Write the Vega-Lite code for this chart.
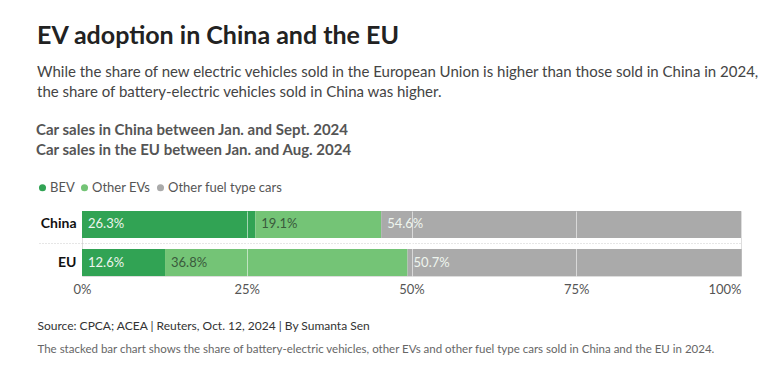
{
  "$schema": "https://vega.github.io/schema/vega-lite/v6.json",
  "autosize": {"type": "none"},
  "padding": {"left": 82, "top": 211, "right": 31, "bottom": 95},
  "width": 659,
  "height": 65,
  "background": "white",
  "title": {
    "text": "EV adoption in China and the EU",
    "subtitle": ["While the share of new electric vehicles sold in the European Union is higher than those sold in China in 2024,", "the share of battery-electric vehicles sold in China was higher."],
    "anchor": "start",
    "frame": "group",
    "dx": -45,
    "offset": 23,
    "font": "Lato",
    "fontSize": 25,
    "fontWeight": "bold",
    "color": "#222222",
    "subtitleFont": "Lato",
    "subtitleFontSize": 15,
    "subtitleColor": "#444444",
    "subtitleLineHeight": 20,
    "subtitlePadding": 16
  },
  "data": {
    "values": [
      {"country": "China", "type": "BEV", "order": 1, "value": 26.3},
      {"country": "China", "type": "Other EVs", "order": 2, "value": 19.1},
      {"country": "China", "type": "Other fuel type cars", "order": 3, "value": 54.6},
      {"country": "EU", "type": "BEV", "order": 1, "value": 12.6},
      {"country": "EU", "type": "Other EVs", "order": 2, "value": 36.8},
      {"country": "EU", "type": "Other fuel type cars", "order": 3, "value": 50.7}
    ]
  },
  "transform": [
    {"stack": "value", "groupby": ["country"], "sort": [{"field": "order", "order": "ascending"}], "as": ["v0", "v1"]},
    {"calculate": "format(datum.value, '.1f') + '%'", "as": "label"}
  ],
  "encoding": {
    "y": {
      "field": "country",
      "type": "nominal",
      "sort": ["China", "EU"],
      "scale": {"paddingInner": 0.29, "paddingOuter": 0},
      "axis": {
        "title": null,
        "domain": false,
        "labelFont": "Lato",
        "labelFontSize": 14,
        "labelFontWeight": "bold",
        "labelColor": "#111111",
        "ticks": true,
        "tickSize": 45,
        "tickColor": "#cccccc",
        "tickDash": [1, 2],
        "tickWidth": 1,
        "tickOpacity": {"condition": {"test": "datum.value === 'China'", "value": 1}, "value": 0},
        "bandPosition": 1.204,
        "labelPadding": -39,
        "grid": true,
        "gridColor": "#cccccc",
        "gridDash": [1, 2],
        "gridOpacity": {"condition": {"test": "datum.value === 'China'", "value": 1}, "value": 0}
      }
    }
  },
  "layer": [
    {
      "mark": {"type": "bar"},
      "encoding": {
        "x": {
          "field": "v0",
          "type": "quantitative",
          "scale": {"domain": [0, 100], "nice": false},
          "axis": {
            "orient": "bottom",
            "values": [0, 25, 50, 75, 100],
            "labelExpr": "datum.value + '%'",
            "labelFont": "Lato",
            "labelFontSize": 13,
            "labelColor": "#555555",
            "labelPadding": 7,
            "labelAlign": {"condition": {"test": "datum.value === 100", "value": "right"}, "value": "center"},
            "domain": false,
            "ticks": false,
            "grid": true,
            "gridColor": "#ffffff",
            "gridOpacity": {"condition": {"test": "datum.value === 0 || datum.value === 100", "value": 0}, "value": 0.55},
            "zindex": 1,
            "title": "Source: CPCA; ACEA | Reuters, Oct. 12, 2024 | By Sumanta Sen",
            "titleFont": "Liberation Sans Narrow, Lato",
            "titleFontSize": 12,
            "titleFontWeight": "normal",
            "titleColor": "#333333",
            "titleAnchor": "start",
            "titleAlign": "left",
            "titleBaseline": "alphabetic",
            "titleX": -45,
            "titleY": 53
          }
        },
        "x2": {"field": "v1"},
        "color": {
          "field": "type",
          "type": "nominal",
          "sort": ["BEV", "Other EVs", "Other fuel type cars"],
          "scale": {"domain": ["BEV", "Other EVs", "Other fuel type cars"], "range": ["#31a354", "#74c476", "#aaaaaa"]},
          "legend": {
            "orient": "none",
            "legendX": -46,
            "legendY": -88,
            "direction": "horizontal",
            "title": ["Car sales in China between Jan. and Sept. 2024", "Car sales in the EU between Jan. and Aug. 2024"],
            "titleFont": "Lato",
            "titleFontSize": 15,
            "titleFontWeight": "bold",
            "titleColor": "#555555",
            "titleLineHeight": 20,
            "titlePadding": 23,
            "titleLimit": 600,
            "symbolType": "circle",
            "symbolSize": 50,
            "symbolStrokeWidth": 0,
            "labelFont": "Lato",
            "labelFontSize": 13,
            "labelColor": "#555555",
            "labelOffset": 1,
            "columnPadding": 3
          }
        }
      }
    },
    {
      "mark": {"type": "text", "align": "left", "baseline": "middle", "dx": 6, "font": "Lato", "fontSize": 13},
      "encoding": {
        "x": {
          "field": "v0",
          "type": "quantitative",
          "axis": {
            "orient": "bottom",
            "labels": false,
            "ticks": false,
            "domain": false,
            "grid": false,
            "title": "The stacked bar chart shows the share of battery-electric vehicles, other EVs and other fuel type cars sold in China and the EU in 2024.",
            "titleFont": "Lato",
            "titleFontSize": 11.5,
            "titleFontWeight": "normal",
            "titleColor": "#666666",
            "titleAnchor": "start",
            "titleAlign": "left",
            "titleBaseline": "alphabetic",
            "titleX": -45,
            "titleY": 76
          }
        },
        "text": {"field": "label", "type": "nominal"},
        "fill": {"condition": {"test": "datum.type === 'Other EVs'", "value": "#3a5a3c"}, "value": "#eef5ee"}
      }
    }
  ],
  "resolve": {"axis": {"x": "independent"}}
}
